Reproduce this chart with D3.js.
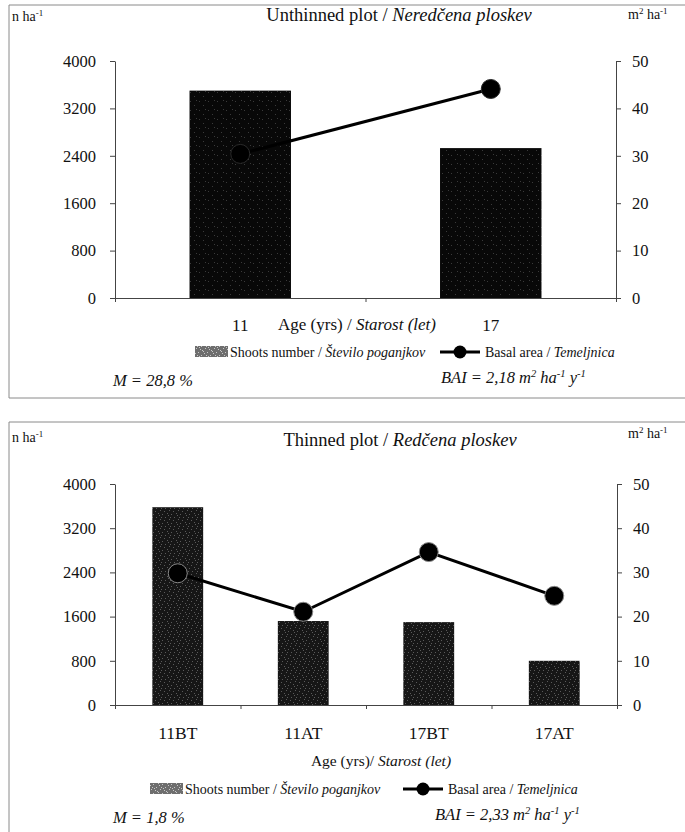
<!DOCTYPE html>
<html>
<head>
<meta charset="utf-8">
<script src="https://cdn.jsdelivr.net/npm/d3@7"></script>
<style>
  html, body { margin: 0; padding: 0; background: #fff; }
  svg { display: block; font-family: "Liberation Serif", "Times New Roman", serif; }
</style>
</head>
<body>
<script>
// ---------------- DATA ----------------
const unthinnedAges   = ["11", "17"];
const unthinnedShoots = [3500, 2530];     // n ha-1
const unthinnedBasal  = [30.4, 44.1];     // m2 ha-1

const thinnedAges     = ["11BT", "11AT", "17BT", "17AT"];
const thinnedShoots   = [3580, 1520, 1500, 800];
const thinnedBasal    = [29.8, 21.1, 34.6, 24.7];

const shootTicks = [0, 800, 1600, 2400, 3200, 4000];
const basalTicks = [0, 10, 20, 30, 40, 50];

const unthinnedTitle = [{t: "Unthinned plot / "}, {t: "Neredčena ploskev", i: true}];
const thinnedTitle   = [{t: "Thinned plot / "}, {t: "Redčena ploskev", i: true}];
const unthinnedAxisTitle = [{t: "Age (yrs) / "}, {t: "Starost (let)", i: true}];
const thinnedAxisTitle   = [{t: "Age (yrs)/ "}, {t: "Starost (let)", i: true}];
const legendShoots = [{t: "Shoots number / "}, {t: "Število poganjkov", i: true}];
const legendBasal  = [{t: "Basal area / "}, {t: "Temeljnica", i: true}];
const unthinnedM   = [{t: "M = 28,8 %", i: true}];
const thinnedM     = [{t: "M = 1,8 %", i: true}];
const unthinnedBAI = [{t: "BAI = 2,18 m", i: true}, {t: "2", i: true, s: true}, {t: " ha", i: true}, {t: "-1", i: true, s: true}, {t: " y", i: true}, {t: "-1", i: true, s: true}];
const thinnedBAI   = [{t: "BAI = 2,33 m", i: true}, {t: "2", i: true, s: true}, {t: " ha", i: true}, {t: "-1", i: true, s: true}, {t: " y", i: true}, {t: "-1", i: true, s: true}];
const leftUnit  = [{t: "n ha"}, {t: "-1", s: true}];
const rightUnit = [{t: "m"}, {t: "2", s: true}, {t: " ha"}, {t: "-1", s: true}];

// ---------------- DRAWING ----------------
const W = 685, H = 832;
const svg = d3.select("body").append("svg").attr("width", W).attr("height", H);
const defs = svg.append("defs");

// speckled textures (fixed dot layout)
function makePattern(id, bg, dot, dots) {
  const p = defs.append("pattern").attr("id", id).attr("patternUnits", "userSpaceOnUse")
    .attr("width", 9).attr("height", 9);
  p.append("rect").attr("width", 9).attr("height", 9).attr("fill", bg);
  dots.forEach(([x, y]) => p.append("rect").attr("x", x).attr("y", y).attr("width", 1).attr("height", 1).attr("fill", dot));
}
makePattern("texTop", "#080808", "#3a3a3a", [[1,2],[5,6],[7,1]]);
makePattern("texBot", "#161616", "#5a5a5a", [[0,1],[3,4],[6,2],[2,7],[7,6],[5,0],[8,4]]);
makePattern("texLeg", "#6e6e6e", "#c8c8c8", [[0,1],[3,4],[6,2],[2,7],[7,6],[5,0],[8,4],[4,8],[1,5]]);

function rich(sel, parts, size) {
  let prevSup = false;
  parts.forEach(p => {
    const ts = sel.append("tspan").text(p.t).attr("font-style", p.i ? "italic" : "normal");
    if (p.s) {
      ts.attr("font-size", size * 0.64);
      if (!prevSup) ts.attr("dy", -size * 0.38);
    } else if (prevSup) {
      ts.attr("dy", size * 0.38);
    }
    prevSup = !!p.s;
  });
  return sel;
}
function text(g, x, y, parts, size, anchor) {
  const t = g.append("text").attr("x", x).attr("y", y).attr("font-size", size)
    .attr("text-anchor", anchor || "start").attr("fill", "#111");
  return rich(t, parts, size);
}

function panel(cfg) {
  const g = svg.append("g");
  // frame
  g.append("path").attr("d", `M${W},${cfg.frameTop} H${cfg.frameLeft} V${cfg.frameBottom}` + (cfg.frameBottomLine ? ` H${W}` : ""))
    .attr("fill", "none").attr("stroke", "#8a8a8a").attr("stroke-width", 1);

  const x = d3.scaleBand().domain(cfg.cats).range([cfg.x0, cfg.x1]).paddingInner(0).paddingOuter(0);
  const xb = d3.scaleLinear().domain([0, cfg.cats.length]).range([cfg.x0, cfg.x1]);
  const yL = d3.scaleLinear().domain([0, 4000]).range([cfg.yB, cfg.yT]);
  const yR = d3.scaleLinear().domain([0, 50]).range([cfg.yB, cfg.yT]);

  // bars
  const bw = x.bandwidth() * 0.405;
  g.selectAll("rect.bar").data(cfg.shoots).join("rect").attr("class", "bar")
    .attr("x", (d, i) => x(cfg.cats[i]) + (x.bandwidth() - bw) / 2)
    .attr("width", bw)
    .attr("y", d => yL(d)).attr("height", d => yL(0) - yL(d))
    .attr("fill", `url(#${cfg.tex})`);

  // axes
  const axL = g.append("g").attr("transform", `translate(${cfg.x0},0)`)
    .call(d3.axisLeft(yL).tickValues(shootTicks).tickFormat(d3.format("d")).tickSize(5).tickSizeOuter(0).tickPadding(14));
  const axR = g.append("g").attr("transform", `translate(${cfg.x1},0)`)
    .call(d3.axisRight(yR).tickValues(basalTicks).tickFormat(d3.format("d")).tickSize(5).tickSizeOuter(0).tickPadding(11));
  const axB = g.append("g").attr("transform", `translate(0,${cfg.yB})`)
    .call(d3.axisBottom(xb).tickValues(d3.range(cfg.cats.length + 1)).tickFormat("").tickSize(4).tickSizeOuter(0));
  const axLab = g.append("g").attr("transform", `translate(0,${cfg.yB})`)
    .call(d3.axisBottom(x).tickSize(0).tickPadding(cfg.catPad));
  axLab.select(".domain").remove();
  [axL, axR, axB].forEach(a => {
    a.select(".domain").attr("stroke", "#444").attr("stroke-width", 1);
    a.selectAll(".tick line").attr("stroke", "#444");
  });
  [axL, axR].forEach(a => a.selectAll("text").attr("font-size", 16.5).attr("font-family", "Liberation Serif").attr("fill", "#111"));
  axLab.selectAll("text").attr("font-size", cfg.catSize).attr("font-family", "Liberation Serif").attr("fill", "#111");

  // basal area line
  const line = d3.line().x((d, i) => x(cfg.cats[i]) + x.bandwidth() / 2).y(d => yR(d));
  g.append("path").datum(cfg.basal).attr("d", line).attr("fill", "none")
    .attr("stroke", "#000").attr("stroke-width", 3);
  g.selectAll("circle.pt").data(cfg.basal).join("circle").attr("class", "pt")
    .attr("cx", (d, i) => x(cfg.cats[i]) + x.bandwidth() / 2).attr("cy", d => yR(d))
    .attr("r", 9.5).attr("fill", "#000").attr("stroke", cfg.haloColor).attr("stroke-width", 1);

  // texts
  text(g, cfg.titleX, cfg.titleY, cfg.title, 18.5, "middle");
  text(g, 12, cfg.leftUnitY, leftUnit, 14);
  text(g, 628, cfg.rightUnitY, rightUnit, 14);
  text(g, cfg.axisTitleX, cfg.axisTitleY, cfg.axisTitle, cfg.axisTitleSize, "middle");

  // legend
  g.append("rect").attr("x", cfg.legX).attr("y", cfg.legY - 6).attr("width", 33).attr("height", 11)
    .attr("fill", "url(#texLeg)");
  text(g, cfg.legX + 35, cfg.legY + 5, legendShoots, 14);
  const lx = cfg.leg2X;
  g.append("line").attr("x1", lx).attr("x2", lx + 40).attr("y1", cfg.legY).attr("y2", cfg.legY)
    .attr("stroke", "#000").attr("stroke-width", 3);
  g.append("circle").attr("cx", lx + 20).attr("cy", cfg.legY).attr("r", 6.5).attr("fill", "#000");
  text(g, lx + 45, cfg.legY + 5, legendBasal, 14);

  text(g, 113, cfg.mY, cfg.M, 16.5);
  text(g, cfg.baiX, cfg.baiY, cfg.BAI, 16.5);
}

panel({
  cats: unthinnedAges, shoots: unthinnedShoots, basal: unthinnedBasal, tex: "texTop", haloColor: "#2a2a2a",
  x0: 115, x1: 616, yT: 61, yB: 298,
  frameTop: 5, frameLeft: 9, frameBottom: 398, frameBottomLine: true,
  title: unthinnedTitle, titleX: 399, titleY: 21,
  leftUnitY: 21, rightUnitY: 19,
  catPad: 21, catSize: 17,
  axisTitle: unthinnedAxisTitle, axisTitleX: 357, axisTitleY: 330, axisTitleSize: 17,
  legX: 195, legY: 352, leg2X: 440,
  M: unthinnedM, mY: 386, BAI: unthinnedBAI, baiX: 441, baiY: 383
});

panel({
  cats: thinnedAges, shoots: thinnedShoots, basal: thinnedBasal, tex: "texBot", haloColor: "#888",
  x0: 115, x1: 617, yT: 484, yB: 705,
  frameTop: 422, frameLeft: 9, frameBottom: 832, frameBottomLine: false,
  title: thinnedTitle, titleX: 400, titleY: 446,
  leftUnitY: 442, rightUnitY: 438,
  catPad: 22, catSize: 17.5,
  axisTitle: thinnedAxisTitle, axisTitleX: 381, axisTitleY: 766, axisTitleSize: 15.5,
  legX: 150, legY: 789, leg2X: 403,
  M: thinnedM, mY: 823, BAI: thinnedBAI, baiX: 435, baiY: 820
});
</script>
</body>
</html>
